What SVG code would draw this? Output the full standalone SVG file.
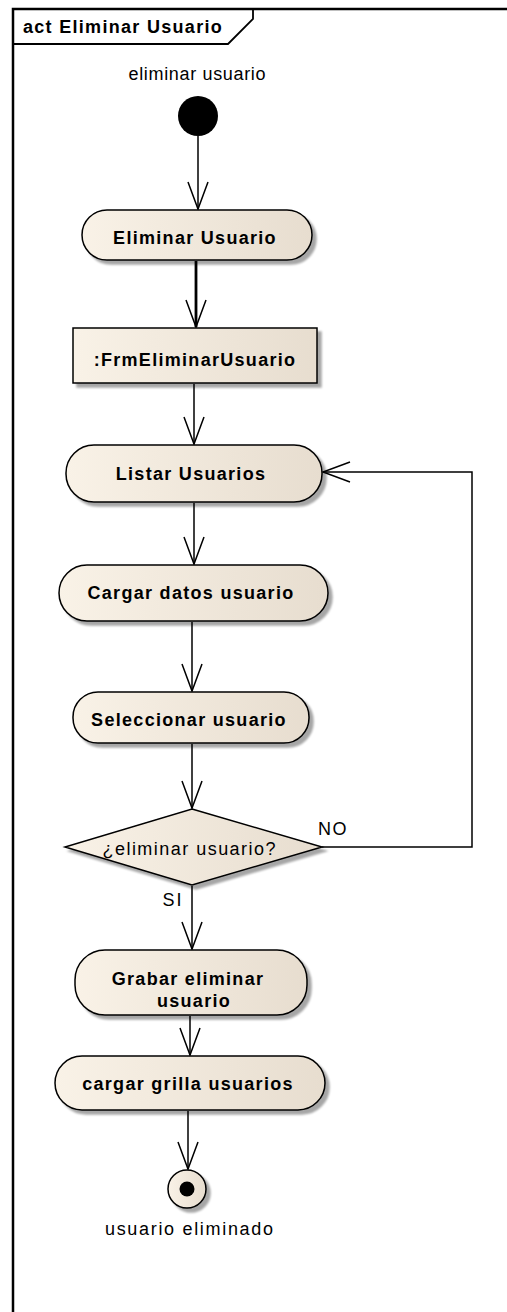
<svg xmlns="http://www.w3.org/2000/svg" width="507" height="1312" viewBox="0 0 507 1312">
  <style>
    .frame { fill: none; stroke: #000; stroke-width: 2.5; }
    .node { fill: url(#nodeFill); stroke: #000; stroke-width: 1.5; filter: url(#shadow); }
    .lbl { font-family: "Liberation Sans", Arial, sans-serif; font-size: 18px; font-weight: bold; fill: #000; text-anchor: middle; letter-spacing: 1.3px; }
    .txt { font-family: "Liberation Sans", Arial, sans-serif; font-size: 18px; fill: #000; text-anchor: middle; }
    .edge { fill: none; stroke: #000; stroke-width: 1.5; marker-end: url(#open); }
  </style>
  <defs>
    <linearGradient id="nodeFill" x1="0" y1="0" x2="1" y2="0">
      <stop offset="0" stop-color="#f9f2e7"/>
      <stop offset="1" stop-color="#e7ddcf"/>
    </linearGradient>
    <filter id="shadow" x="-10%" y="-10%" width="130%" height="140%">
      <feGaussianBlur in="SourceAlpha" stdDeviation="1.2"/>
      <feOffset dx="4" dy="4" result="off"/>
      <feComponentTransfer><feFuncA type="linear" slope="0.35"/></feComponentTransfer>
      <feMerge><feMergeNode/><feMergeNode in="SourceGraphic"/></feMerge>
    </filter>
    <marker id="open" markerUnits="userSpaceOnUse" markerWidth="32" markerHeight="24" viewBox="0 0 32 24" refX="28" refY="11" orient="auto">
      <path d="M1,1 L28,11 L1,21" fill="none" stroke="#000" stroke-width="1.5"/>
    </marker>
  </defs>

  <!-- activity frame -->
  <g id="frame">
    <rect class="frame" x="13" y="9" width="600" height="1400"/>
    <path d="M13,44 L228,44 L253,19 L253,9" fill="none" stroke="#000" stroke-width="1.8"/>
    <text x="23" y="33" font-family="Liberation Sans, Arial, sans-serif" font-size="18" font-weight="bold" letter-spacing="1.3">act Eliminar Usuario</text>
  </g>

  <!-- connectors -->
  <g id="connectors">
    <path class="edge" d="M198,136 L198,209"/>
    <path class="edge" d="M196,261 L196,327" style="stroke-width:2.8"/>
    <path class="edge" d="M194,384 L194,444"/>
    <path class="edge" d="M194,503 L194,564"/>
    <path class="edge" d="M192,622 L192,691"/>
    <path class="edge" d="M192,744 L192,808"/>
    <path class="edge" d="M192,886 L192,949"/>
    <path class="edge" d="M190,1016 L190,1055"/>
    <path class="edge" d="M188,1111 L188,1169"/>
    <path class="edge" d="M322,847 L472,847 L472,472 L323,472"/>
    <text class="txt" x="333" y="835" letter-spacing="1.5">NO</text>
    <text class="txt" x="173" y="906" letter-spacing="2">SI</text>
  </g>

  <g id="start">
    <circle cx="198" cy="116" r="20" fill="#000"/>
    <text class="txt" x="197" y="80" textLength="137" lengthAdjust="spacing">eliminar usuario</text>
  </g>

  <g id="eliminarUsuario">
    <rect class="node" x="82" y="210" width="230" height="50" rx="25"/>
    <text class="lbl" x="195" y="244">Eliminar Usuario</text>
  </g>

  <g id="frmEliminarUsuario">
    <rect class="node" x="73" y="328" width="244" height="55"/>
    <text class="lbl" x="195" y="366">:FrmEliminarUsuario</text>
  </g>

  <g id="listarUsuarios">
    <rect class="node" x="66" y="445" width="256" height="57" rx="28"/>
    <text class="lbl" x="191" y="480">Listar Usuarios</text>
  </g>

  <g id="cargarDatosUsuario">
    <rect class="node" x="59" y="565" width="269" height="56" rx="28"/>
    <text class="lbl" x="191" y="599">Cargar datos usuario</text>
  </g>

  <g id="seleccionarUsuario">
    <rect class="node" x="73" y="692" width="236" height="51" rx="25"/>
    <text class="lbl" x="189" y="726">Seleccionar usuario</text>
  </g>

  <g id="decision">
    <path class="node" d="M192,809 L322,847 L192,885 L65,847 Z"/>
    <text class="txt" x="189" y="855" textLength="173" lengthAdjust="spacing">¿eliminar usuario?</text>
  </g>

  <g id="grabarEliminarUsuario">
    <rect class="node" x="75" y="950" width="232" height="65" rx="30"/>
    <text class="lbl" x="188" y="985">Grabar eliminar</text>
    <text class="lbl" x="194" y="1007">usuario</text>
  </g>

  <g id="cargarGrillaUsuarios">
    <rect class="node" x="55" y="1056" width="270" height="54" rx="27"/>
    <text class="lbl" x="188" y="1090">cargar grilla usuarios</text>
  </g>

  <g id="final">
    <circle class="node" cx="187" cy="1189" r="19"/>
    <circle cx="187" cy="1189" r="7.5" fill="#000"/>
    <text class="txt" x="189" y="1235" textLength="168" lengthAdjust="spacing">usuario eliminado</text>
  </g>
</svg>
